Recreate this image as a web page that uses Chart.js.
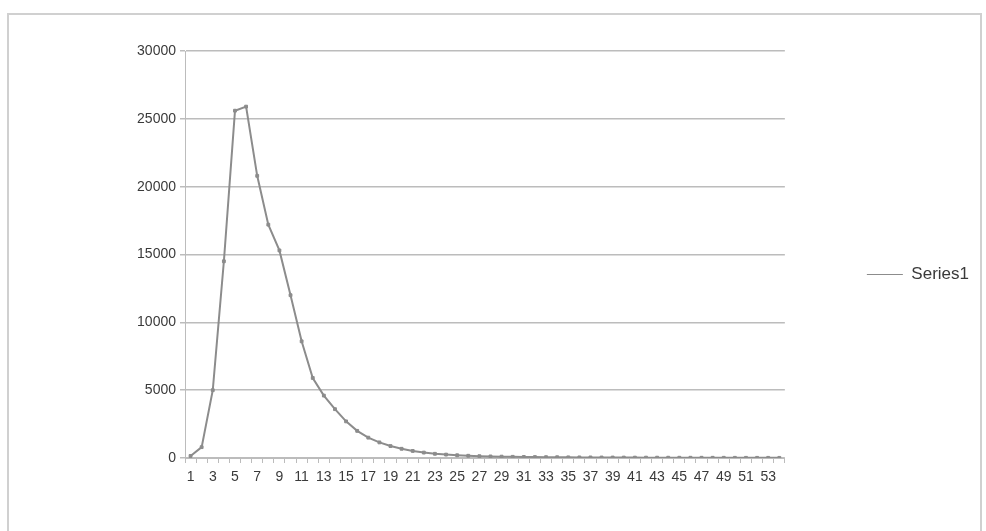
<!DOCTYPE html>
<html>
<head>
<meta charset="utf-8">
<script src="https://cdn.jsdelivr.net/npm/chart.js@4/dist/chart.umd.min.js"></script>
<style>
	html, body { margin: 0; padding: 0; background: #fff; }
	#wrap { position: relative; width: 986px; height: 531px; }
	#frame {
		position: absolute; left: 7px; top: 13px; width: 975px; height: 540px;
		border: 2px solid #d0d0d0; box-sizing: border-box;
	}
	canvas { position: absolute; left: 0; top: 0; }
</style>
</head>
<body>
<div id="wrap">
	<div id="frame"></div>
	<canvas id="myChart" width="986" height="531"></canvas>
</div>
<script>
// categories 1..54
const categories = [
	1, 2, 3, 4, 5, 6, 7, 8, 9, 10, 11, 12, 13, 14, 15, 16, 17, 18,
	19, 20, 21, 22, 23, 24, 25, 26, 27, 28, 29, 30, 31, 32, 33, 34, 35, 36,
	37, 38, 39, 40, 41, 42, 43, 44, 45, 46, 47, 48, 49, 50, 51, 52, 53, 54
];

const series1 = [
	150, 800, 5000, 14500, 25600, 25900, 20800, 17200, 15300, 12000,
	8600, 5900, 4600, 3600, 2700, 2000, 1500, 1150, 880, 680,
	520, 400, 310, 250, 200, 165, 135, 115, 100, 88,
	78, 70, 62, 56, 50, 45, 41, 37, 34, 31,
	28, 26, 24, 22, 20, 18, 17, 16, 15, 14,
	13, 12, 11, 10
];

const yTicks = [0, 5000, 10000, 15000, 20000, 25000, 30000];

const colors = {
	line: '#8c8c8c',
	grid: '#bcbcbc',
	text: '#3a3a3a'
};

const font = { family: "'Liberation Sans', Arial, sans-serif", size: 14 };

var ctx = document.getElementById('myChart').getContext('2d');
var myChart = new Chart(ctx, {
	type: 'line',
	data: {
		labels: categories,
		datasets: [
			{
				label: 'Series1',
				data: series1,
				fill: false,
				borderColor: colors.line,
				backgroundColor: colors.line,
				borderWidth: 2,
				pointRadius: 2,
				pointStyle: 'rect',
				pointBorderWidth: 1,
				tension: 0
			}
		]
	},
	options: {
		responsive: false,
		animation: false,
		layout: {
			padding: { left: 125, top: 51, right: 7, bottom: 33 }
		},
		plugins: {
			tooltip: { enabled: false },
			legend: {
				position: 'right',
				labels: {
					usePointStyle: true,
					pointStyle: 'line',
					pointStyleWidth: 36,
					padding: 82,
					color: colors.text,
					font: { family: font.family, size: 17 }
				}
			}
		},
		scales: {
			x: {
				offset: true,
				afterFit: (scale) => { scale.height = 40; },
				border: { color: colors.grid, width: 1 },
				grid: {
					offset: true,
					drawOnChartArea: false,
					drawTicks: true,
					tickLength: 5,
					color: colors.grid
				},
				ticks: {
					autoSkip: false,
					maxRotation: 0,
					minRotation: 0,
					padding: 6,
					color: colors.text,
					font: font,
					callback: function (value, index) {
						return index % 2 === 0 ? categories[index] : '';
					}
				}
			},
			y: {
				min: 0,
				max: 30000,
				afterFit: (scale) => { scale.width = 60; },
				afterBuildTicks: (scale) => {
					scale.ticks = yTicks.map(v => ({ value: v }));
				},
				border: { color: colors.grid, width: 1 },
				grid: {
					color: colors.grid,
					lineWidth: 1.5,
					tickLength: 5
				},
				ticks: {
					padding: 4,
					color: colors.text,
					font: font,
					callback: (value) => String(value)
				}
			}
		}
	}
});
</script>
</body>
</html>
